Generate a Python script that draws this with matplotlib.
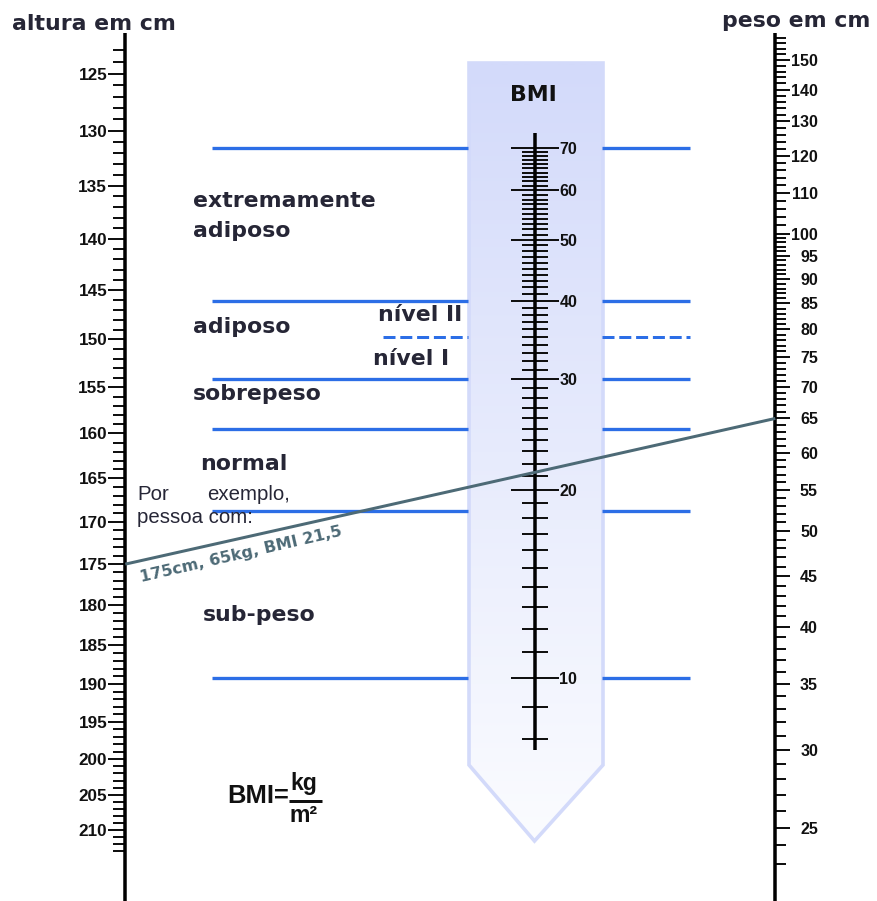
import numpy as np
import matplotlib
matplotlib.use("Agg")
import matplotlib.pyplot as plt
from matplotlib.patches import Polygon
from matplotlib.ticker import NullFormatter

# ---------------- data ----------------
height_major = [125, 130, 135, 140, 145, 150, 155, 160, 165, 170, 175, 180,
                185, 190, 195, 200, 205, 210]
height_minor = list(range(123, 214))
weight_major = [25, 30, 35, 40, 45, 50, 55, 60, 65, 70, 75, 80, 85, 90, 95,
                100, 110, 120, 130, 140, 150]
weight_minor = list(range(23, 100)) + list(range(100, 160, 2))
bmi_major = [10, 20, 30, 40, 50, 60, 70]
bmi_minor = list(range(8, 71))
class_bounds = [70, 40, 30, 25, 18.5, 10]
subclass_bounds = [35]
categories = ["extremamente", "adiposo", "adiposo", "sobrepeso", "normal", "sub-peso"]
sublevels = ["nível II", "nível I"]
example_height = 175
example_weight = 65
example_text = "175cm, 65kg, BMI 21,5"

# ---------------- layout ----------------
W, H = 878, 901
PT = 72 / 100.0
fig = plt.figure(figsize=(W / 100, H / 100), dpi=100)
fig.patch.set_facecolor("white")

TXT = "#262636"
BLUE = "#2c6ee6"
SLATE = "#4d6a76"
BOLD_LABEL = dict(family="DejaVu Sans", fontweight="bold", fontsize=15.8, color=TXT)
DIGITS = dict(family="Liberation Sans", fontweight="bold")

bg = fig.add_axes([0, 0, 1, 1])
bg.set_xlim(0, W)
bg.set_ylim(H, 0)
bg.axis("off")

# BMI band with gradient
band_xy = [(469, 63), (603, 63), (603, 765), (534.5, 841), (469, 765)]
grad = np.linspace(0, 1, 256)[:, None]
top_c = np.array([211, 218, 250]) / 255.0
bot_c = np.array([251, 252, 255]) / 255.0
img = top_c[None, None, :] * (1 - grad[:, :, None]) + bot_c[None, None, :] * grad[:, :, None]
img = np.repeat(img, 2, axis=1)
im = bg.imshow(img, extent=(469, 603, 841, 63), origin="upper", aspect="auto",
               interpolation="bilinear", zorder=1)
poly = Polygon(band_xy, closed=True, facecolor="none", edgecolor="none")
bg.add_patch(poly)
im.set_clip_path(poly)
bg.add_patch(Polygon(band_xy, closed=True, fill=False, edgecolor="#d3dafa",
                     lw=2.6, joinstyle="miter", zorder=2))
bg.set_xlim(0, W)
bg.set_ylim(H, 0)


def log_axes(v1, p1, v2, p2):
    ax = fig.add_axes([0, 0, 1, 1])
    ax.set_xlim(0, W)
    ax.set_yscale("log")
    k = (np.log10(v2) - np.log10(v1)) / (p2 - p1)
    f = lambda p: 10 ** (np.log10(v1) + (p - p1) * k)
    ax.set_ylim(f(H), f(0))
    ax.patch.set_visible(False)
    for s in ax.spines.values():
        s.set_visible(False)
    ax.xaxis.set_visible(False)
    return ax, f


# height scale (left)
ax_h, fh = log_axes(125, 73.5, 210, 830)
sp = ax_h.spines["left"]
sp.set_visible(True)
sp.set_position(("data", 125.3))
sp.set_bounds(fh(33), fh(H))
sp.set_linewidth(3.5 * PT)
sp.set_capstyle("butt")
ax_h.yaxis.set_ticks_position("left")
ax_h.tick_params(axis="y", which="major", direction="out", length=17.3 * PT,
                 width=2 * PT, pad=0.6, colors="#111111")
ax_h.tick_params(axis="y", which="minor", direction="out", length=12.3 * PT,
                 width=2 * PT, colors="#111111")
ax_h.set_yticks(height_major, [str(v) for v in height_major], fontsize=12.3, **DIGITS)
ax_h.set_yticks(height_minor, minor=True)
ax_h.yaxis.set_minor_formatter(NullFormatter())

# weight scale (right)
ax_w, fw = log_axes(150, 60, 25, 828)
sp = ax_w.spines["right"]
sp.set_visible(True)
sp.set_position(("data", 775.3))
sp.set_bounds(fw(H), fw(33))
sp.set_linewidth(3.5 * PT)
sp.set_capstyle("butt")
ax_w.yaxis.set_ticks_position("right")
ax_w.tick_params(axis="y", which="major", direction="out", length=15.4 * PT,
                 width=2 * PT, pad=27.3 * PT, colors="#111111")
ax_w.tick_params(axis="y", which="minor", direction="out", length=10.7 * PT,
                 width=2 * PT, colors="#111111")
ax_w.set_yticks(weight_major, [str(v) for v in weight_major], fontsize=11.5, **DIGITS)
ax_w.set_yticks(weight_minor, minor=True)
ax_w.yaxis.set_minor_formatter(NullFormatter())
for t in ax_w.yaxis.get_major_ticks():
    t.label2.set_horizontalalignment("right")

# BMI scale (middle)
ax_b, fb = log_axes(70, 148.3, 10, 678.3)
sp = ax_b.spines["right"]
sp.set_visible(True)
sp.set_position(("data", 534.7))
sp.set_bounds(fb(750), fb(133))
sp.set_linewidth(3.5 * PT)
sp.set_capstyle("butt")
ax_b.yaxis.set_ticks_position("right")
ax_b.tick_params(axis="y", which="major", direction="inout", length=47.6 * PT,
                 width=2 * PT, pad=0.6, colors="#111111")
ax_b.tick_params(axis="y", which="minor", direction="inout", length=25.6 * PT,
                 width=2 * PT, colors="#111111")
ax_b.set_yticks(bmi_major, [str(v) for v in bmi_major], fontsize=11.5, **DIGITS)
ax_b.set_yticks(bmi_minor, minor=True)
ax_b.yaxis.set_minor_formatter(NullFormatter())

# classification lines
ax_b.hlines(class_bounds, 212, 468.5, colors=BLUE, lw=3.3 * PT)
ax_b.hlines(class_bounds, 602.5, 690, colors=BLUE, lw=3.3 * PT)
ax_b.hlines(subclass_bounds, 383, 468.5, colors=BLUE, lw=3.0 * PT,
            linestyles=[(0, (4.0, 1.6))])
ax_b.hlines(subclass_bounds, 602.5, 690, colors=BLUE, lw=3.0 * PT,
            linestyles=[(0, (4.0, 1.6))])

# overlay axes (pixel coordinates) for text and example line
top = fig.add_axes([0, 0, 1, 1])
top.set_xlim(0, W)
top.set_ylim(H, 0)
top.axis("off")
top.patch.set_visible(False)

inv = top.transData.inverted()
p1 = inv.transform(ax_h.transData.transform((125.3, example_height)))
p2 = inv.transform(ax_w.transData.transform((775.3, example_weight)))
top.plot([p1[0], p2[0]], [p1[1], p2[1]], color=SLATE, lw=3.0 * PT,
         solid_capstyle="butt")
top.text(141, 582, example_text, rotation=13, rotation_mode="anchor",
         ha="left", va="baseline", family="DejaVu Sans", fontweight="bold",
         fontsize=11.5, color=SLATE)

# headers
top.text(12, 29.5, "altura em cm", ha="left", va="baseline", **BOLD_LABEL)
top.text(722, 27, "peso em cm", ha="left", va="baseline", **BOLD_LABEL)
top.text(533.5, 101, "BMI", ha="center", va="baseline",
         family="DejaVu Sans", fontweight="bold", fontsize=15.8, color="#111111")

# category labels
cat_pos = [(193, 207), (193, 237), (193, 333), (193, 400), (200, 470), (203, 621)]
for name, (x, y) in zip(categories, cat_pos):
    top.text(x, y, name, ha="left", va="baseline", **BOLD_LABEL)
sub_pos = [(378, 321), (373, 365)]
for name, (x, y) in zip(sublevels, sub_pos):
    top.text(x, y, name, ha="left", va="baseline", **BOLD_LABEL)

# example caption
EX = dict(family="Liberation Sans", fontsize=14.7, color=TXT, ha="left", va="baseline")
top.text(137, 500, "Por", **EX)
top.text(207, 500, "exemplo,", **EX)
top.text(137, 523, "pessoa com:", **EX)

# formula
F = dict(family="Liberation Sans", fontweight="bold", color="#111111", va="baseline")
top.text(227, 803, "BMI=", fontsize=18.4, ha="left", **F)
top.text(304, 790, "kg", fontsize=16.6, ha="center", **F)
top.plot([289, 322], [801, 801], color="#111111", lw=3 * PT, solid_capstyle="butt")
top.text(304, 822, "m²", fontsize=16.6, ha="center", **F)

fig.savefig("out.png", dpi=100)
